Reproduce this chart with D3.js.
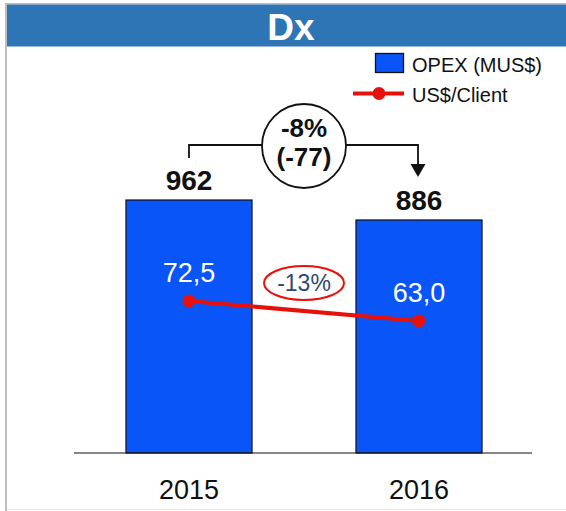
<!DOCTYPE html>
<html>
<head>
<meta charset="utf-8">
<script src="https://cdn.jsdelivr.net/npm/d3@7"></script>
<style>
  html, body { margin: 0; padding: 0; background: #fff; }
  svg { display: block; font-family: "Liberation Sans", Arial, sans-serif; }
</style>
</head>
<body>
<svg id="chart" width="566" height="511"></svg>
<script>
// Data
const years = ["2015", "2016"];
const opex = [962, 886];            // OPEX (MUS$)
const perClient = [72.5, 63.0];     // US$/Client
const perClientLabels = ["72,5", "63,0"];
const opexChangeLabels = ["-8%", "(-77)"];
const perClientChangeLabel = "-13%";
const title = "Dx";

const svg = d3.select("#chart");
const W = 566, H = 511;

// Frame
svg.append("rect").attr("x", 5).attr("y", 3).attr("width", 2).attr("height", H - 3).attr("fill", "#bdbdbd");
svg.append("rect").attr("x", 5).attr("y", 3).attr("width", W - 5).attr("height", 1.5).attr("fill", "#bdbdbd");
svg.append("rect").attr("x", 7).attr("y", 509).attr("width", W - 7).attr("height", 1).attr("fill", "#e6e6e6");

// Header band
svg.append("rect").attr("x", 7).attr("y", 4.5).attr("width", W - 7).attr("height", 42).attr("fill", "#2E75B6");
svg.append("text").attr("x", 291).attr("y", 40).attr("text-anchor", "middle")
  .attr("fill", "#fff").attr("font-weight", "bold").attr("font-size", 37).text(title);

// Scales
const baseY = 453;
const x = d3.scaleBand().domain(years).range([74, 534]).paddingInner(0.452).paddingOuter(0.226);
const y = d3.scaleLinear().domain([0, 962]).range([baseY, 200]);
const y2 = d3.scaleLinear().domain([0, 72.5]).range([baseY, 301]);
const cx = d => x(d) + x.bandwidth() / 2;

// Bars
svg.selectAll("rect.bar").data(opex).enter().append("rect")
  .attr("class", "bar")
  .attr("x", (d, i) => x(years[i]))
  .attr("y", d => y(d))
  .attr("width", x.bandwidth())
  .attr("height", d => baseY - y(d))
  .attr("fill", "#0A55F7").attr("stroke", "#111").attr("stroke-width", 1.2);

// Baseline
svg.append("line").attr("x1", 74).attr("x2", 532).attr("y1", baseY).attr("y2", baseY)
  .attr("stroke", "#111").attr("stroke-width", 1.2);

// Category labels
svg.selectAll("text.year").data(years).enter().append("text")
  .attr("class", "year")
  .attr("x", d => cx(d)).attr("y", 499).attr("text-anchor", "middle")
  .attr("font-size", 27).attr("fill", "#111").text(d => d);

// Bar value labels
svg.selectAll("text.opex").data(opex).enter().append("text")
  .attr("class", "opex")
  .attr("x", (d, i) => cx(years[i])).attr("y", d => y(d) - 10).attr("text-anchor", "middle")
  .attr("font-size", 28).attr("font-weight", "bold").attr("fill", "#111").text(d => d);

// US$/Client line
const pts = perClient.map((v, i) => [cx(years[i]), y2(v)]);
svg.append("path").attr("d", d3.line()(pts)).attr("fill", "none")
  .attr("stroke", "#E8100A").attr("stroke-width", 4);
svg.selectAll("circle.pt").data(pts).enter().append("circle")
  .attr("class", "pt").attr("cx", d => d[0]).attr("cy", d => d[1]).attr("r", 6.5)
  .attr("fill", "#E8100A");
svg.selectAll("text.pc").data(perClient).enter().append("text")
  .attr("class", "pc")
  .attr("x", (d, i) => cx(years[i])).attr("y", d => y2(d) - 19).attr("text-anchor", "middle")
  .attr("font-size", 27).attr("fill", "#fff").text((d, i) => perClientLabels[i]);

// -13% callout
svg.append("ellipse").attr("cx", 304).attr("cy", 283).attr("rx", 40).attr("ry", 17)
  .attr("fill", "#fff").attr("stroke", "#E8100A").attr("stroke-width", 2);
svg.append("text").attr("x", 304).attr("y", 291).attr("text-anchor", "middle")
  .attr("font-size", 23).attr("fill", "#2E4A6E").text(perClientChangeLabel);

// OPEX change bracket
const bx1 = cx(years[0]), bx2 = cx(years[1]);
const by = 145;
svg.append("path")
  .attr("d", `M${bx1},${158}V${by}H${bx2 - 1}V${166}`)
  .attr("fill", "none").attr("stroke", "#111").attr("stroke-width", 1.8);
svg.append("path")
  .attr("d", `M${bx2 - 8.5},${164}L${bx2 + 6.5},${164}L${bx2 - 1},${177}Z`)
  .attr("fill", "#111");
svg.append("circle").attr("cx", 304).attr("cy", 146).attr("r", 42)
  .attr("fill", "#fff").attr("stroke", "#111").attr("stroke-width", 1.8);
svg.selectAll("text.chg").data(opexChangeLabels).enter().append("text")
  .attr("class", "chg")
  .attr("x", 304).attr("y", (d, i) => 137 + i * 29).attr("text-anchor", "middle")
  .attr("font-size", 26).attr("font-weight", "bold").attr("fill", "#111").text(d => d);

// Legend
const lg = svg.append("g");
lg.append("rect").attr("x", 375.5).attr("y", 53.5).attr("width", 28).attr("height", 19)
  .attr("fill", "#0A55F7").attr("stroke", "#111").attr("stroke-width", 1.3);
lg.append("text").attr("x", 412).attr("y", 72).attr("font-size", 20).attr("fill", "#111").text("OPEX (MUS$)");
lg.append("line").attr("x1", 353).attr("x2", 404).attr("y1", 93.5).attr("y2", 93.5)
  .attr("stroke", "#E8100A").attr("stroke-width", 4);
lg.append("circle").attr("cx", 379).attr("cy", 93.5).attr("r", 6.5).attr("fill", "#E8100A");
lg.append("text").attr("x", 412).attr("y", 102).attr("font-size", 20).attr("fill", "#111").text("US$/Client");
</script>
</body>
</html>
